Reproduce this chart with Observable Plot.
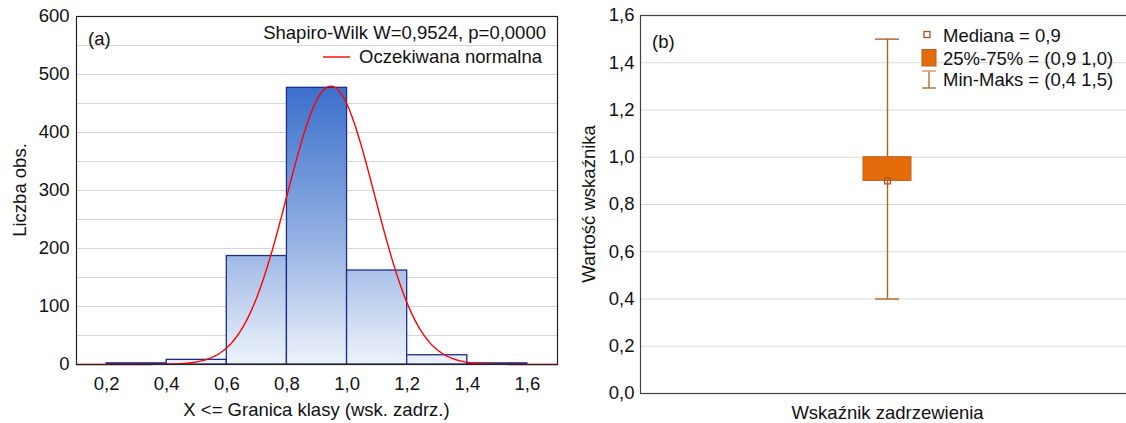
<!DOCTYPE html>
<html><head><meta charset="utf-8">
<script src="https://cdn.jsdelivr.net/npm/d3@7"></script>
<script src="https://cdn.jsdelivr.net/npm/@observablehq/plot@0.6"></script>
<style>
html,body{margin:0;padding:0;background:#fff;overflow:hidden;width:1126px;height:423px;}
#wrap{position:relative;width:1126px;height:423px;overflow:hidden;}
#a{position:absolute;left:0;top:0;width:570px;height:423px;}
#b{position:absolute;left:570px;top:0;width:570px;height:423px;}
#wrap svg{max-width:none !important;}
svg text{font-family:"Liberation Sans",Arial,sans-serif;}
</style></head><body><div id="wrap"><div id="a"></div><div id="b"></div></div>
<script>
// ---------- Panel (a): histogram ----------
const binLower = [0.2, 0.4, 0.6, 0.8, 1.0, 1.2, 1.4];
const binUpper = [0.4, 0.6, 0.8, 1.0, 1.2, 1.4, 1.6];
const binCounts = [2, 8, 187, 477, 162, 16, 2];
const histXTicks = [0.2, 0.4, 0.6, 0.8, 1.0, 1.2, 1.4, 1.6];
const histYTicks = [0, 100, 200, 300, 400, 500, 600];
const histGrid = [50, 100, 150, 200, 250, 300, 350, 400, 450, 500, 550];
// fitted normal ("Oczekiwana normalna") parameters
const normalMean = 0.946, normalSd = 0.146, normalPeak = 480;
const histTitle = "Shapiro-Wilk W=0,9524, p=0,0000";
const histLegend = "Oczekiwana normalna";
const histXLabel = "X <= Granica klasy (wsk. zadrz.)";
const histYLabel = "Liczba obs.";

// ---------- Panel (b): box plot ----------
const boxCategory = ["Wskaźnik zadrzewienia"];
const boxMin = [0.4], boxQ1 = [0.9], boxMedian = [0.9], boxQ3 = [1.0], boxMax = [1.5];
const boxYTicks = [0, 0.2, 0.4, 0.6, 0.8, 1.0, 1.2, 1.4, 1.6];
const boxLegend = ["Mediana = 0,9", "25%-75% = (0,9 1,0)", "Min-Maks = (0,4 1,5)"];
const boxYLabel = "Wartość wskaźnika";

const FONT = "Liberation Sans, Arial, sans-serif";
const FS = 18.5;
const comma = d => d.toFixed(1).replace(".", ",");

// ---- build (a)
const bins = binLower.map((lo, i) => ({lo, hi: binUpper[i], n: binCounts[i]}));
const curveX = d3.range(0.1, 1.7001, 0.004);
const curve = curveX.map(x => ({x, y: normalPeak * Math.exp(-((x - normalMean) ** 2) / (2 * normalSd ** 2))}));

const plotA = Plot.plot({
  width: 570, height: 423,
  marginLeft: 76, marginRight: 13, marginTop: 16, marginBottom: 59,
  style: {fontSize: FS + "px", fontFamily: FONT, color: "#111", background: "#fff", overflow: "visible", maxWidth: "none"},
  x: {domain: [0.1, 1.7], ticks: histXTicks, tickFormat: comma, tickSize: 0, tickPadding: 12, label: null},
  y: {domain: [0, 600], ticks: histYTicks, tickSize: 0, tickPadding: 7, label: null},
  marks: [
    Plot.ruleY(histGrid, {stroke: "#d6d6d6", strokeWidth: 1}),
    Plot.rectY(bins, {x1: "lo", x2: "hi", y: "n", fill: "url(#histGrad)", stroke: "#1c2e8c", strokeWidth: 1.3}),
    Plot.line(curve, {x: "x", y: "y", stroke: "#ff0000", strokeWidth: 1.4}),
    Plot.frame({stroke: "#222", strokeWidth: 1.2})
  ]
});
document.getElementById("a").appendChild(plotA);
{
  const ys = plotA.scale("y");
  const s = d3.select(plotA);
  const grad = s.insert("defs", ":first-child").append("linearGradient")
    .attr("id", "histGrad").attr("gradientUnits", "userSpaceOnUse")
    .attr("x1", 0).attr("x2", 0).attr("y1", ys.apply(480)).attr("y2", ys.apply(0));
  grad.append("stop").attr("offset", "0%").attr("stop-color", "#3a6fcc");
  grad.append("stop").attr("offset", "55%").attr("stop-color", "#93b0e2");
  grad.append("stop").attr("offset", "100%").attr("stop-color", "#eef3fb");
  const t = (x, y, txt, anchor = "start") => s.append("text").attr("x", x).attr("y", y).attr("dy", "0.35em")
    .attr("text-anchor", anchor).attr("font-size", FS).attr("fill", "#111").text(txt);
  t(88, 39, "(a)");
  t(546, 33, histTitle, "end");
  s.append("line").attr("x1", 323).attr("x2", 350).attr("y1", 57).attr("y2", 57).attr("stroke", "#ff0000").attr("stroke-width", 1.4);
  t(359, 57, histLegend);
  t(316.5, 410, histXLabel, "middle");
  s.append("text").attr("transform", "translate(20,190) rotate(-90)").attr("dy", "0.35em")
    .attr("text-anchor", "middle").attr("font-size", FS).attr("fill", "#111").text(histYLabel);
}

// ---- build (b)
const boxRows = boxCategory.map((c, i) => ({c, min: boxMin[i], q1: boxQ1[i], med: boxMedian[i], q3: boxQ3[i], max: boxMax[i]}));
const whisker = "#b5621f", boxFill = "#e46c0a", boxStroke = "#c05e18";
const plotB = Plot.plot({
  width: 570, height: 423,
  marginLeft: 70, marginRight: 7, marginTop: 15, marginBottom: 30,
  style: {fontSize: FS + "px", fontFamily: FONT, color: "#111", background: "#fff", overflow: "visible", maxWidth: "none"},
  x: {type: "band", domain: boxCategory, padding: 0.8225, tickSize: 0, tickPadding: 12, label: null},
  y: {domain: [0, 1.6], ticks: boxYTicks, tickFormat: comma, tickSize: 0, tickPadding: 6, label: null},
  marks: [
    Plot.ruleY(boxYTicks.slice(1), {stroke: "#dcdcdc", strokeWidth: 1}),
    Plot.ruleX(boxRows, {x: "c", y1: "min", y2: "max", stroke: whisker, strokeWidth: 1.4}),
    Plot.tickY(boxRows, {x: "c", y: "min", stroke: whisker, strokeWidth: 1.4, insetLeft: 12, insetRight: 12}),
    Plot.tickY(boxRows, {x: "c", y: "max", stroke: whisker, strokeWidth: 1.4, insetLeft: 12, insetRight: 12}),
    Plot.barY(boxRows, {x: "c", y1: "q1", y2: "q3", fill: boxFill, stroke: boxStroke, strokeWidth: 1}),
    Plot.dot(boxRows, {x: "c", y: "med", symbol: "square", r: 3.3, fill: "none", stroke: "#a8521a", strokeWidth: 1.3}),
    Plot.frame({stroke: "#444", strokeWidth: 1.2})
  ]
});
document.getElementById("b").appendChild(plotB);
{
  const s = d3.select(plotB);
  const t = (x, y, txt, anchor = "start") => s.append("text").attr("x", x).attr("y", y).attr("dy", "0.35em")
    .attr("text-anchor", anchor).attr("font-size", FS).attr("fill", "#111").text(txt);
  t(82, 42, "(b)");
  // legend
  s.append("rect").attr("x", 354).attr("y", 31.5).attr("width", 6).attr("height", 6).attr("fill", "#fff").attr("stroke", "#a8521a").attr("stroke-width", 1.3);
  t(373, 35.5, boxLegend[0]);
  s.append("rect").attr("x", 352).attr("y", 49.5).attr("width", 14).attr("height", 16.5).attr("fill", boxFill).attr("stroke", boxStroke);
  t(373, 58.5, boxLegend[1]);
  s.append("line").attr("x1", 359).attr("x2", 359).attr("y1", 71).attr("y2", 88).attr("stroke", whisker).attr("stroke-width", 1.3);
  s.append("line").attr("x1", 352).attr("x2", 366).attr("y1", 71).attr("y2", 71).attr("stroke", "#d8a27a").attr("stroke-width", 1.6);
  s.append("line").attr("x1", 352).attr("x2", 366).attr("y1", 88).attr("y2", 88).attr("stroke", whisker).attr("stroke-width", 1.3);
  t(373, 80, boxLegend[2]);
  s.append("text").attr("transform", "translate(19,204) rotate(-90)").attr("dy", "0.35em")
    .attr("text-anchor", "middle").attr("font-size", FS).attr("fill", "#111").text(boxYLabel);
}
</script></body></html>
